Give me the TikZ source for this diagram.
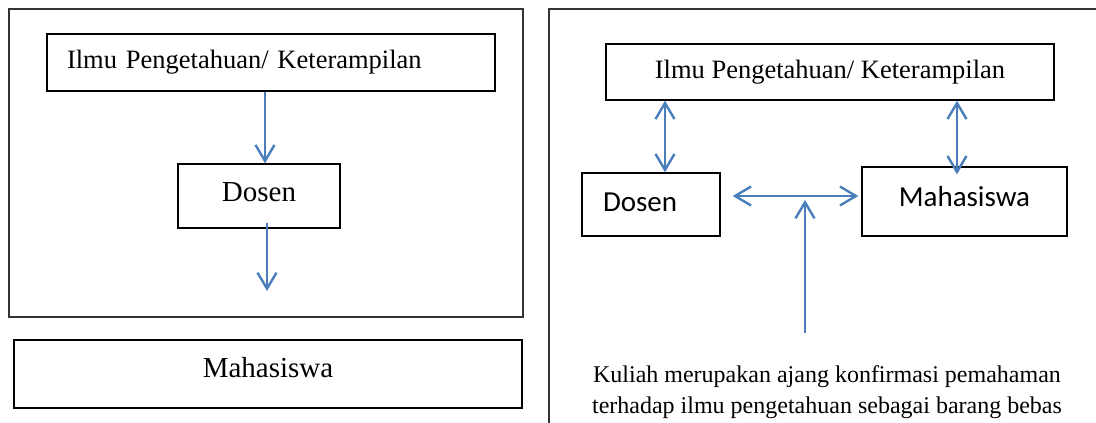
\documentclass[tikz,border=0pt]{standalone}
\usepackage{fontspec}
\setmainfont{Liberation Serif}
\newfontfamily\calibrifont{Carlito}
\usetikzlibrary{arrows.meta}
\definecolor{arrowblue}{HTML}{4A7EBB}

\begin{document}
\begin{tikzpicture}
  [x=1pt,y=-1pt,
   box/.style={draw,line width=1.4pt,inner sep=0pt},
   frame/.style={draw=black!80,line width=1.4pt},
   arr/.style={draw=arrowblue,line width=2.4pt,-{Straight Barb[length=16pt,width=19pt]}},
   darr/.style={arr,{Straight Barb[length=16pt,width=19pt]}-{Straight Barb[length=16pt,width=19pt]}}]
  \useasboundingbox (0,0) rectangle (1096,423);
  % left panel
  \draw[frame] (9,9) rectangle (523,317);
  \node[box,minimum width=448pt,minimum height=57pt,text width=408pt,align=left,
        font=\fontsize{26.5}{30}\selectfont] (ilmuL) at (271,62.5) {Ilmu Pengetahuan/ Keterampilan};
  \node[box,minimum width=162pt,minimum height=64pt,text depth=8pt,
        font=\fontsize{29}{33}\selectfont] (dosenL) at (259,196) {Dosen};
  \node[box,minimum width=508pt,minimum height=68pt,text depth=14pt,
        font=\fontsize{29}{33}\selectfont] (mahaL) at (268,374) {Mahasiswa};
  \coordinate (a1) at ([xshift=6pt]dosenL.north);
  \coordinate (a2) at ([xshift=8pt,yshift=6pt]dosenL.south);
  \coordinate (endL) at (267,291);

  % right panel
  \draw[frame] (549,9) rectangle (1120,440);
  \node[box,minimum width=448pt,minimum height=56pt,
        font=\fontsize{26.5}{30}\selectfont] (ilmuR) at (830,72) {Ilmu Pengetahuan/ Keterampilan};
  \node[box,minimum width=138pt,minimum height=63pt,text width=96pt,align=left,text depth=5pt,
        font=\calibrifont\fontsize{29}{33}\selectfont] (dosenR) at (651,204.5) {Dosen};
  \node[box,minimum width=205pt,minimum height=69pt,text depth=11pt,
        font=\calibrifont\fontsize{29}{33}\selectfont] (mahaR) at (964.5,201.5) {Mahasiswa};
  \node[align=center,font=\fontsize{24}{31}\selectfont] (kuliah) at (827,392)
    {Kuliah merupakan ajang konfirmasi pemahaman\\terhadap ilmu pengetahuan sebagai barang bebas};
  \coordinate (b1) at ([xshift=14pt]dosenR.north);
  \coordinate (b2) at ([xshift=-7.5pt,yshift=-8pt]mahaR.north);
  \coordinate (c1) at ([xshift=12pt,yshift=8.5pt]dosenR.east);
  \path (c1 -| mahaR.west) ++(-3,0) coordinate (c2);
  \coordinate (meet) at (805,200);
  \coordinate (src) at (805,333);

  \foreach \from/\to in {a1 |- ilmuL.south/a1, a2/endL, src/meet}
    \draw[arr] (\from) -- (\to);
  \foreach \from/\to in {b1 |- ilmuR.south/b1, b2 |- ilmuR.south/b2, c1/c2}
    \draw[darr] (\from) -- (\to);
\end{tikzpicture}
\end{document}
